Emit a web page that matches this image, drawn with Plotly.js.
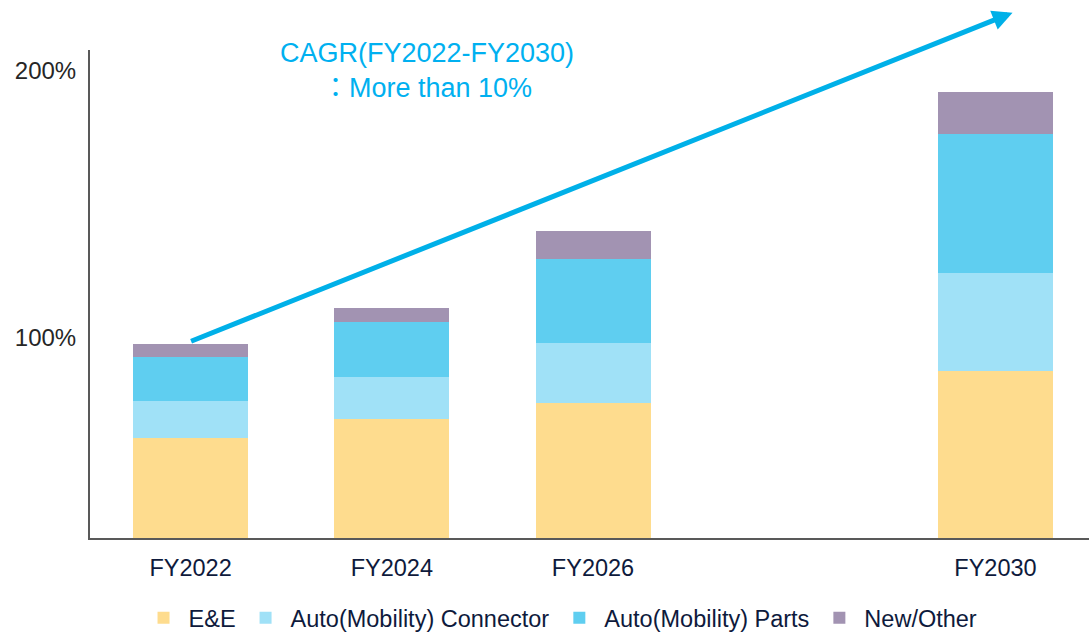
<!DOCTYPE html>
<html>
<head>
<meta charset="utf-8">
<script src="https://cdn.plot.ly/plotly-3.0.1.min.js"></script>
<style>html,body{margin:0;padding:0;background:#fff;}#chart{width:1089px;height:632px;}</style>
</head>
<body>
<div id="chart"></div>
<script>
const categories = ['FY2022', 'FY2024', 'FY2026', 'FY2030'];
const years = [2022, 2024, 2026, 2030];
const eeValues = [62.4, 69.3, 75.4, 87.4];
const connectorValues = [13.9, 15.8, 22.6, 36.8];
const partsValues = [16.4, 20.7, 31.5, 52.3];
const otherValues = [4.9, 5.3, 10.5, 15.5];
const seriesNames = ['E&E', 'Auto(Mobility) Connector', 'Auto(Mobility) Parts', 'New/Other'];
const seriesColors = ['#FEDC8E', '#A0E1F7', '#5FCEF0', '#A293B2'];
const yTickVals = [100, 200];
const yTickText = ['100%', '200%'];

const FONT = 'Liberation Sans, Arial, "Noto Sans CJK JP", sans-serif';
const allValues = [eeValues, connectorValues, partsValues, otherValues];

const traces = allValues.map((vals, i) => ({
  type: 'bar',
  name: seriesNames[i],
  x: years,
  y: vals,
  width: 1.143,
  marker: {color: seriesColors[i], line: {width: 0}},
  hoverinfo: 'name+y'
}));

const layout = {
  width: 1089,
  height: 632,
  margin: {l: 90, r: 0, t: 50, b: 94, pad: 0, autoexpand: false},
  paper_bgcolor: '#ffffff',
  plot_bgcolor: '#ffffff',
  barmode: 'stack',
  font: {family: FONT, size: 24, color: '#0E1A3C'},
  xaxis: {
    range: [2021.0, 2030.93],
    tickvals: years,
    ticktext: categories,
    showgrid: false,
    zeroline: false,
    showline: true,
    linecolor: '#595959',
    linewidth: 2,
    ticks: 'outside',
    ticklen: 8,
    tickcolor: 'rgba(0,0,0,0)',
    tickfont: {family: FONT, size: 23.5, color: '#0E1A3C'},
    automargin: false,
    fixedrange: true
  },
  yaxis: {
    range: [24.8, 207.9],
    tickvals: yTickVals,
    ticktext: yTickText,
    showgrid: false,
    zeroline: false,
    showline: true,
    linecolor: '#595959',
    linewidth: 2,
    ticks: 'outside',
    ticklen: 7,
    tickcolor: 'rgba(0,0,0,0)',
    tickfont: {family: FONT, size: 24, color: '#262626'},
    automargin: false,
    fixedrange: true
  },
  legend: {
    orientation: 'h',
    x: 0.471,
    xanchor: 'center',
    y: -0.164,
    yanchor: 'middle',
    traceorder: 'normal',
    itemwidth: 40,
    font: {family: FONT, size: 23.5, color: '#0E1A3C'},
    itemclick: false,
    itemdoubleclick: false
  },
  annotations: [
    {
      xref: 'x', yref: 'y', axref: 'x', ayref: 'y',
      x: 2030.17, y: 221.9,
      ax: 2021.99, ay: 98.4,
      text: '',
      showarrow: true,
      arrowhead: 2,
      arrowsize: 0.8,
      arrowwidth: 5,
      arrowcolor: '#00B0E8',
      standoff: 0
    },
    {
      xref: 'paper', yref: 'paper',
      x: 0.337, y: 0.958,
      xanchor: 'center', yanchor: 'middle',
      text: 'CAGR(FY2022-FY2030)<br>：More than 10%',
      showarrow: false,
      align: 'center',
      font: {family: FONT, size: 27, color: '#00B0F0'}
    }
  ],
  showlegend: true
};

Plotly.newPlot('chart', traces, layout, {displayModeBar: false, staticPlot: false});
</script>
</body>
</html>
